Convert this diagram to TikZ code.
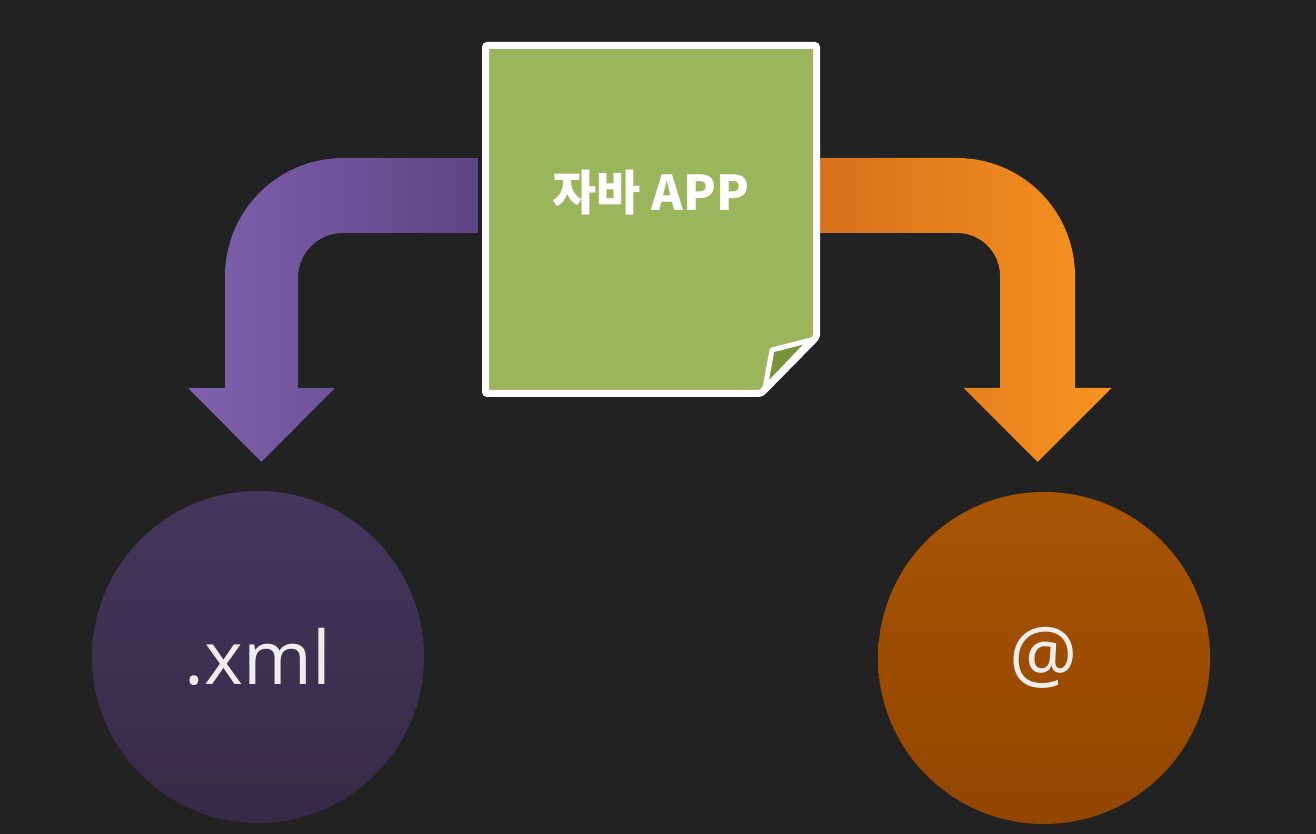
\documentclass[tikz,border=0pt]{standalone}
\usepackage{fontspec}
\usepackage{tikz}
\setmainfont{Open Sans}
\newfontfamily\krfont{Noto Sans CJK KR}
\definecolor{bgdark}{HTML}{222222}
\definecolor{notegreen}{HTML}{9BB55B}
\definecolor{folddark}{HTML}{78933A}
\definecolor{purpleA}{HTML}{7E62AD}
\definecolor{purpleB}{HTML}{5E4587}
\definecolor{orangeA}{HTML}{D6701C}
\definecolor{orangeB}{HTML}{F8921F}
\definecolor{xmltop}{HTML}{43375D}
\definecolor{xmlbot}{HTML}{362B46}
\definecolor{attop}{HTML}{A85505}
\definecolor{atbot}{HTML}{924600}
\definecolor{softwhite}{HTML}{EEEEEE}

\begin{document}
\begin{tikzpicture}[x=1pt,y=1pt,
    notetext/.style={text=white,font=\krfont\bfseries\fontsize{48}{50}\selectfont},
    bubble/.style={circle,minimum size=332pt,inner sep=0pt,text=softwhite}]
  \fill[bgdark] (0,0) rectangle (1316,834);
  \useasboundingbox (0,0) rectangle (1316,834);

  % left arrow
  \fill[left color=purpleA,right color=purpleB]
    (478,676) -- (343,676) arc[start angle=90,end angle=180,radius=118]
    -- (225,446) -- (188,446) -- (261.5,372) -- (335,446) -- (298,446)
    -- (298,556) arc[start angle=180,end angle=90,radius=45]
    -- (478,601) -- cycle;

  % right arrow
  \fill[left color=orangeA,right color=orangeB]
    (815,676) -- (957,676) arc[start angle=90,end angle=0,radius=118]
    -- (1075,446) -- (1111.5,446) -- (1037.5,372) -- (963.5,446) -- (1000,446)
    -- (1000,558) arc[start angle=0,end angle=90,radius=43]
    -- (815,601) -- cycle;

  % note with folded corner
  \filldraw[fill=notegreen,draw=white,line width=7pt,rounded corners=2pt]
    (485.5,788.5) -- (816.5,788.5) -- (816.5,497) -- (761,440.5) -- (485.5,440.5) -- cycle;
  \filldraw[fill=folddark,draw=white,line width=5pt,line join=round]
    (772,484) -- (811,494) -- (765,446) -- cycle;
  \node[notetext] (app) at (651,641) {자바 APP};

  \node[bubble,top color=xmltop,bottom color=xmlbot,
        font=\fontsize{74}{76}\selectfont] (xml) at (258,177) {.xml};
  \node[bubble,top color=attop,bottom color=atbot,
        font=\fontsize{76}{78}\selectfont] (at) at (1044,176) {@};
\end{tikzpicture}
\end{document}
